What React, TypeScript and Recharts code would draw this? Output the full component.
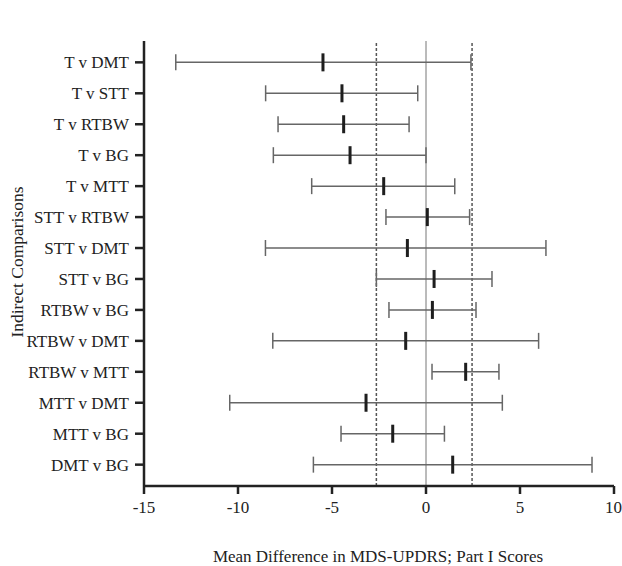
import { ScatterChart, Scatter, XAxis, YAxis, ErrorBar, ReferenceLine, Label } from 'recharts';

const comparisons = [
  'T v DMT', 'T v STT', 'T v RTBW', 'T v BG', 'T v MTT',
  'STT v RTBW', 'STT v DMT', 'STT v BG', 'RTBW v BG', 'RTBW v DMT',
  'RTBW v MTT', 'MTT v DMT', 'MTT v BG', 'DMT v BG',
];
const means = [-5.48, -4.47, -4.38, -4.04, -2.25, 0.07, -0.99, 0.43, 0.34, -1.08, 2.11, -3.19, -1.77, 1.42];
const lows = [-13.31, -8.53, -7.87, -8.12, -6.08, -2.13, -8.54, -2.64, -1.97, -8.15, 0.32, -10.44, -4.52, -5.99];
const highs = [2.39, -0.44, -0.9, 0.0, 1.53, 2.32, 6.38, 3.51, 2.66, 5.99, 3.88, 4.06, 0.98, 8.83];

const xTicks = [-15, -10, -5, 0, 5, 10];
const mcidLines = [-2.64, 2.45];

const FONT = '"Liberation Serif", "Times New Roman", serif';

const rows = comparisons.map((name, i) => ({
  name,
  idx: i,
  mean: means[i],
  err: [means[i] - lows[i], highs[i] - means[i]],
}));

// thick vertical bar for the point estimate
function MeanTick(props: any) {
  const { cx, cy } = props;
  if (cx == null || cy == null) return null;
  return <rect x={cx - 1.5} y={cy - 9} width={3} height={18} fill="#1e1e1e" />;
}

export default function App() {
  return (
    <div style={{ position: 'absolute', left: 0, top: 0, background: '#fff' }}>
      <ScatterChart width={622} height={566} margin={{ top: 41, right: 8, bottom: 0, left: 0 }}>
        <XAxis
          type="number"
          dataKey="mean"
          domain={[-15, 10]}
          ticks={xTicks}
          allowDataOverflow
          height={80}
          tickSize={8}
          tickMargin={7}
          axisLine={{ stroke: '#222', strokeWidth: 2.5 }}
          tickLine={{ stroke: '#222', strokeWidth: 2.5 }}
          tick={{ fontSize: 17, fill: '#222', fontFamily: FONT }}
        >
          <Label
            content={() => (
              <text x={378} y={562} textAnchor="middle" fontSize={17} fill="#222" fontFamily={FONT}>
                Mean Difference in MDS-UPDRS; Part I Scores
              </text>
            )}
          />
        </XAxis>
        <YAxis
          type="number"
          dataKey="idx"
          domain={[-0.69, 13.69]}
          reversed
          ticks={rows.map(r => r.idx)}
          tickFormatter={(v: number) => comparisons[v] ?? ''}
          interval={0}
          width={144}
          tickSize={9}
          tickMargin={6}
          axisLine={{ stroke: '#222', strokeWidth: 2.5 }}
          tickLine={{ stroke: '#222', strokeWidth: 2.5 }}
          tick={{ fontSize: 17, fill: '#222', fontFamily: FONT }}
        >
          <Label
            content={() => (
              <text transform="translate(23,262) rotate(-90)" textAnchor="middle" fontSize={17.5} fill="#222" fontFamily={FONT}>
                Indirect Comparisons
              </text>
            )}
          />
        </YAxis>
        <ReferenceLine x={0} stroke="#777" strokeWidth={1} />
        {mcidLines.map(v => (
          <ReferenceLine key={v} x={v} stroke="#555" strokeWidth={1.5} strokeDasharray="3 2" />
        ))}
        <Scatter data={rows} shape={MeanTick} isAnimationActive={false}>
          <ErrorBar dataKey="err" direction="x" width={8} stroke="#666" strokeWidth={1.5} isAnimationActive={false} />
        </Scatter>
      </ScatterChart>
    </div>
  );
}
